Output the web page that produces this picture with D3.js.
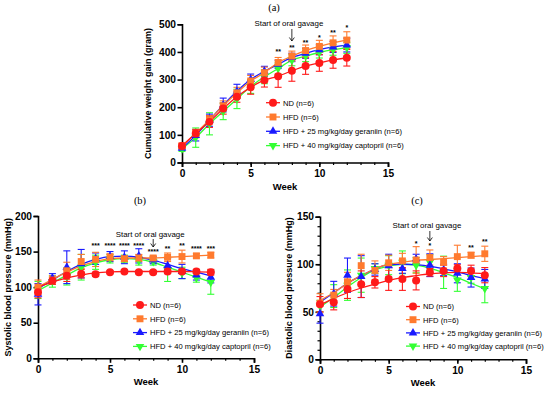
<!DOCTYPE html>
<html><head><meta charset="utf-8">
<script src="https://cdn.jsdelivr.net/npm/d3@7"></script>
<style>body{margin:0;background:#fff}svg{display:block}</style>
</head><body>
<svg id="c" width="550" height="394"></svg>
<script>
// ---------- DATA ----------
const weeks = [0,1,2,3,4,5,6,7,8,9,10,11,12];
const groups = ["ND (n=6)","HFD (n=6)","HFD + 25 mg/kg/day geraniin (n=6)","HFD + 40 mg/kg/day captopril (n=6)"];
const colors = ["#ff1a1a","#ff7a2e","#1a1aff","#33ff33"];
const markerTypes = ["circle","square","up","down"];

// (a) cumulative weight gain (gram)
const weightND   = [60,105,147,195,238,272,298,312,332,349,360,371,379];
const weightHFD  = [60,106,155,205,252,295,325,362,385,405,420,433,443];
const weightGer  = [52,98,153,208,258,300,330,355,380,395,408,418,425];
const weightCap  = [50,90,140,185,230,275,310,340,370,385,398,408,415];
const weightNDsd  = [10,15,20,20,20,25,25,40,38,30,30,30,30];
const weightHFDsd = [8,10,15,18,20,20,20,18,18,20,22,25,30];
const weightGersd = [8,20,22,25,25,20,18,15,15,18,18,20,25];
const weightCapsd = [10,35,40,30,35,25,25,20,20,20,20,20,20];
const weightStars = [{w:7,s:"**",v:392},{w:8,s:"**",v:408},{w:9,s:"**",v:425},{w:10,s:"*",v:445},{w:11,s:"**",v:463},{w:12,s:"*",v:480}];

// (b) systolic blood pressure (mmHg)
const sbpND   = [93,109,116,119,118,121,122,121,121,122,122,122,121];
const sbpHFD  = [100,110,123,136,139,142,140,141,141,142,143,144,145];
const sbpGer  = [90,113,128,133,140,143,142,144,138,130,122,117,114];
const sbpCap  = [96,108,115,128,135,140,140,137,136,125,120,113,107];
const sbpNDsd  = [8,5,8,6,3,2,2,2,2,3,3,3,4];
const sbpHFDsd = [10,6,12,10,10,5,4,5,3,6,9,3,4];
const sbpGersd = [15,6,23,20,8,7,9,10,5,10,10,7,8];
const sbpCapsd = [12,8,12,18,10,6,5,6,5,17,8,6,17];
const sbpNDfit  = [100,107,113,117,120,121.5,122,122,122,122,122,121.5,121];
const sbpHFDfit = [100,111,121,130,136,140,141,141,141,142,143,144,145];
const sbpGerfit = [98,110,122,132,139,143,143.5,142,138,132,126,121,116];
const sbpCapfit = [95,106,117,127,134,138.5,140,139,135,128,121,114,107];
const sbpStars = [{w:4,s:"***",v:155},{w:5,s:"****",v:155},{w:6,s:"****",v:155},{w:7,s:"****",v:155},{w:8,s:"****",v:147},{w:9,s:"**",v:151},{w:10,s:"**",v:155},{w:11,s:"****",v:151},{w:12,s:"***",v:151}];

// (c) diastolic blood pressure (mmHg)
const dbpND   = [58,60,74,79,81,84.5,84.5,83,91.5,93,95.5,93,88.5];
const dbpHFD  = [59,67.5,81.5,98.5,93.5,101.5,103.5,104.5,107,102,108,109.5,111];
const dbpGer  = [48,69,88.5,87,94.5,98.5,95.5,105.5,99,94,90.5,86,84.5];
const dbpCap  = [56,66.5,78,88.5,95.5,99,102,99,102,91.5,83.5,86,74.5];
const dbpNDsd  = [8,8,10,14,6,12,12,10,4,6,4,6,8];
const dbpHFDsd = [10,6,10,12,10,8,8,14,8,6,12,3,8];
const dbpGersd = [10,13,18,22,6,12,5,5,12,6,10,10,10];
const dbpCapsd = [6,12,16,18,5,10,12,8,8,17,12,6,15];
const dbpNDfit  = [57,64,70,75,79,83,86,88,90,91,91.5,91,90];
const dbpHFDfit = [62,70,80,88,95,100,102,104,105,106,107,108,109];
const dbpGerfit = [60,70,80,88,95,99.5,100,99.5,98,95,92,88,85];
const dbpCapfit = [55,65,76,86,94,98,100,99,96,91,86,80,74];
const dbpStars = [{w:7,s:"*",v:119},{w:8,s:"*",v:117},{w:11,s:"**",v:115},{w:12,s:"**",v:121}];

const svg = d3.select("#c");
const SANS = "'Liberation Sans', Arial, sans-serif";
const SERIF = "'Liberation Serif', 'Times New Roman', serif";

function marker(g, type, cx, cy, color){
  const s = type==="circle" ? d3.symbolCircle : type==="square" ? d3.symbolSquare : d3.symbolTriangle;
  const size = type==="circle" ? 50 : type==="square" ? 48 : 32;
  const rot = type==="down" ? 180 : 0;
  g.append("path").attr("d", d3.symbol(s, size)())
    .attr("transform", `translate(${cx},${cy}) rotate(${rot})`)
    .attr("fill", color);
}

function panel(cfg){
  const g = svg.append("g");
  const x = d3.scaleLinear().domain([0,15]).range(cfg.xr);
  const y = d3.scaleLinear().domain(cfg.yd).range(cfg.yr);
  // minor ticks
  if (cfg.yMinor) {
    g.append("g").attr("transform",`translate(${cfg.xr[0]},0)`)
     .call(d3.axisLeft(y).tickValues(cfg.yMinor).tickSize(2.5).tickFormat(""))
     .call(a=>a.select(".domain").remove())
     .selectAll("line").attr("stroke","#000").attr("stroke-width",1.2);
  }
  g.append("g").attr("transform",`translate(0,${cfg.yr[0]})`)
   .call(d3.axisBottom(x).tickValues(weeks.concat([13,14])).tickSize(2.5).tickFormat(""))
   .call(a=>a.select(".domain").remove())
   .selectAll("line").attr("stroke","#000").attr("stroke-width",1.2);
  // major axes
  const ax = g.append("g").attr("transform",`translate(0,${cfg.yr[0]})`)
   .call(d3.axisBottom(x).tickValues([0,5,10,15]).tickSize(4.5).tickPadding(2.5));
  const ay = g.append("g").attr("transform",`translate(${cfg.xr[0]},0)`)
   .call(d3.axisLeft(y).tickValues(cfg.yTicks).tickSize(4.5).tickPadding(1.5));
  [ax,ay].forEach(a=>{
    a.select(".domain").attr("stroke","#000").attr("stroke-width",1.6);
    a.selectAll("line").attr("stroke","#000").attr("stroke-width",1.6);
    a.selectAll("text").attr("font-family",SANS).attr("font-weight","bold").attr("font-size",10.2).attr("fill","#000");
  });
  // titles
  g.append("text").attr("x",(cfg.xr[0]+cfg.xr[1])/2).attr("y",cfg.yr[0]+27)
   .attr("text-anchor","middle").attr("font-family",SANS).attr("font-weight","bold").attr("font-size",9.5).text("Week");
  g.append("text").attr("transform",`translate(${cfg.ylx},${(cfg.yr[0]+cfg.yr[1])/2}) rotate(-90)`)
   .attr("text-anchor","middle").attr("font-family",SANS).attr("font-weight","bold").attr("font-size",9).text(cfg.ylabel);
  g.append("text").attr("x",cfg.title[0]).attr("y",cfg.title[1]).attr("text-anchor","middle")
   .attr("font-family",SERIF).attr("font-size",10.5).text(cfg.title[2]);
  // series (draw last group first so ND is on top)
  const line = d3.line().x((d,i)=>x(weeks[i])).y(d=>y(d)).curve(d3.curveMonotoneX);
  for (let k=3;k>=0;k--){
    const col = colors[k];
    g.append("path").attr("d", line(cfg.fit[k])).attr("fill","none").attr("stroke",col).attr("stroke-width",1.3);
    cfg.mean[k].forEach((m,i)=>{
      const xx = x(weeks[i]), sd = cfg.sd[k][i];
      const y1 = y(m+sd), y2 = y(m-sd);
      g.append("line").attr("x1",xx).attr("x2",xx).attr("y1",y1).attr("y2",y2).attr("stroke",col).attr("stroke-width",1.1);
      [y1,y2].forEach(yy=>g.append("line").attr("x1",xx-3.5).attr("x2",xx+3.5).attr("y1",yy).attr("y2",yy).attr("stroke",col).attr("stroke-width",1.1));
    });
  }
  for (let k=3;k>=0;k--){
    cfg.mean[k].forEach((m,i)=>marker(g, markerTypes[k], x(weeks[i]), y(m), colors[k]));
  }
  // stars
  cfg.stars.forEach(s=>{
    g.append("text").attr("x",x(s.w)).attr("y",y(s.v)).attr("text-anchor","middle")
     .attr("font-family",SANS).attr("font-weight","bold").attr("font-size",7).text(s.s);
  });
  // annotation
  const ax8 = x(8);
  g.append("text").attr("x",ax8-3).attr("y",cfg.ann[0]).attr("text-anchor","middle")
   .attr("font-family",SANS).attr("font-size",7.9).text("Start of oral gavage");
  g.append("line").attr("x1",ax8).attr("x2",ax8).attr("y1",cfg.ann[1]).attr("y2",cfg.ann[2]).attr("stroke","#000").attr("stroke-width",0.8);
  g.append("path").attr("d",`M${ax8-2.5},${cfg.ann[2]-3.5} L${ax8},${cfg.ann[2]} L${ax8+2.5},${cfg.ann[2]-3.5}`)
   .attr("fill","none").attr("stroke","#000").attr("stroke-width",0.8);
  // legend
  groups.forEach((name,k)=>{
    const yy = cfg.leg[1] + k*cfg.leg[2];
    g.append("line").attr("x1",cfg.leg[0]-7).attr("x2",cfg.leg[0]+7).attr("y1",yy).attr("y2",yy).attr("stroke",colors[k]).attr("stroke-width",1.3);
    marker(g, markerTypes[k], cfg.leg[0], yy, colors[k]);
    g.append("text").attr("x",cfg.leg[0]+10).attr("y",yy+2.8).attr("font-family",SANS).attr("font-size",7.6).text(name);
  });
}

panel({xr:[182,388], yd:[0,500], yr:[162.5,24.3], yTicks:[0,100,200,300,400,500],
  ylabel:"Cumulative weight gain (gram)", ylx:151, title:[274,11,"(a)"],
  mean:[weightND,weightHFD,weightGer,weightCap], sd:[weightNDsd,weightHFDsd,weightGersd,weightCapsd],
  fit:[weightND,weightHFD,weightGer,weightCap], stars:weightStars, ann:[25.5,29,41], leg:[273,102.7,14.3]});

panel({xr:[38,254], yd:[0,200], yr:[358.3,216], yTicks:[0,50,100,150,200],
  ylabel:"Systolic blood pressure (mmHg)", ylx:11, title:[140,204,"(b)"],
  mean:[sbpND,sbpHFD,sbpGer,sbpCap], sd:[sbpNDsd,sbpHFDsd,sbpGersd,sbpCapsd],
  fit:[sbpNDfit,sbpHFDfit,sbpGerfit,sbpCapfit], stars:sbpStars, ann:[237,239,247], leg:[140,305,13.8]});

panel({xr:[320,526], yd:[0,150], yr:[359.3,216.7], yTicks:[0,50,100,150],
  yMinor:d3.range(0,151,10),
  ylabel:"Diastolic blood pressure (mmHg)", ylx:292, title:[417,204,"(c)"],
  mean:[dbpND,dbpHFD,dbpGer,dbpCap], sd:[dbpNDsd,dbpHFDsd,dbpGersd,dbpCapsd],
  fit:[dbpNDfit,dbpHFDfit,dbpGerfit,dbpCapfit], stars:dbpStars, ann:[228,231,241], leg:[413,306.5,13.2]});
</script>
</body></html>
